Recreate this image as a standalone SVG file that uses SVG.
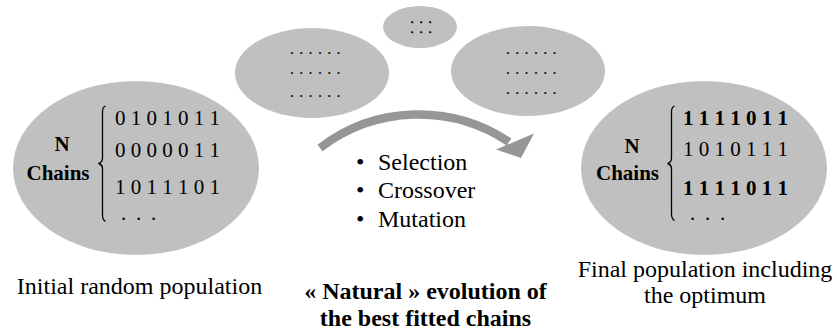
<svg xmlns="http://www.w3.org/2000/svg" width="837" height="330" viewBox="0 0 837 330" font-family="'Liberation Serif', 'Times New Roman', serif">
<style>
.pop{fill:#c0c0c0}
text{font-family:'Liberation Serif','Times New Roman',serif;fill:#000}
.lab{font-size:24px}
.b{font-weight:bold}
.dg{font-size:21px}
.dots{font-size:16px;letter-spacing:5.3px}
.sdots{font-size:9px;font-weight:bold;letter-spacing:6.75px;stroke:#000;stroke-width:0.7}
.brace{fill:none;stroke:#000;stroke-width:1.3}
.arc{fill:none;stroke:#969696;stroke-width:8.5}
</style>
<rect width="837" height="330" fill="#fff"/>
<g id="initial-population">
<ellipse class="pop" cx="136" cy="168" rx="123" ry="87"/>
<text class="b dg" x="62" y="151" text-anchor="middle">N</text>
<text class="b dg" x="58" y="180" text-anchor="middle">Chains</text>
<path class="brace" d="M105.5,106 Q102.5,107 102.5,112 L102.5,158 Q102.5,162.5 98.5,163.5 Q102.5,164.5 102.5,169 L102.5,215 Q102.5,220 105.5,221.5"/>
<text class="dg" x="115" y="125">0 1 0 1 0 1 1</text>
<text class="dg" x="115" y="157">0 0 0 0 0 1 1</text>
<text class="dg" x="115" y="194">1 0 1 1 1 0 1</text>
<text class="dg" x="121" y="220" letter-spacing="2.25">. . .</text>
<text class="lab" x="139.5" y="294" text-anchor="middle">Initial random population</text>
</g>
<g id="intermediate-left">
<ellipse class="pop" cx="312" cy="73" rx="77" ry="45"/>
<text class="dots" x="290" y="54">......</text>
<text class="dots" x="290" y="74">......</text>
<text class="dots" x="290" y="97">......</text>
</g>
<g id="intermediate-top">
<ellipse class="pop" cx="420" cy="27" rx="37" ry="21"/>
<text class="sdots" x="411" y="23">...</text>
<text class="sdots" x="411" y="33">...</text>
</g>
<g id="intermediate-right">
<ellipse class="pop" cx="528" cy="71" rx="77" ry="45"/>
<text class="dots" x="506" y="54">......</text>
<text class="dots" x="506" y="74">......</text>
<text class="dots" x="506" y="94">......</text>
</g>
<g id="final-population">
<ellipse class="pop" cx="704" cy="168" rx="123" ry="87"/>
<text class="b dg" x="632" y="153" text-anchor="middle">N</text>
<text class="b dg" x="627.5" y="180" text-anchor="middle">Chains</text>
<path class="brace" d="M674.5,106 Q671.5,107 671.5,112 L671.5,158 Q671.5,162.5 667.5,163.5 Q671.5,164.5 671.5,169 L671.5,214 Q671.5,219 674.5,220.5"/>
<text class="b dg" x="683" y="125">1 1 1 1 0 1 1</text>
<text class="dg" x="683" y="156">1 0 1 0 1 1 1</text>
<text class="b dg" x="683" y="195">1 1 1 1 0 1 1</text>
<text class="dg" x="690" y="220" letter-spacing="2.25">. . .</text>
<text class="lab" text-anchor="middle"><tspan x="705" y="277">Final population including</tspan><tspan x="705" y="303">the optimum</tspan></text>
</g>
<g id="evolution">
<text class="lab" x="356" y="170">•<tspan x="378">Selection</tspan></text>
<text class="lab" x="356" y="198">•<tspan x="378">Crossover</tspan></text>
<text class="lab" x="356" y="227">•<tspan x="378">Mutation</tspan></text>
<text class="lab b" x="425.5" y="298.5" text-anchor="middle">« Natural » evolution of</text>
<text class="lab b" x="425.5" y="325.5" text-anchor="middle">the best fitted chains</text>
</g>
<g id="connectors">
<path class="arc" d="M320,148 A162,162 0 0 1 509,142"/>
<polygon points="496,149.5 534,133.5 521,158" fill="#969696"/>
</g>
</svg>
